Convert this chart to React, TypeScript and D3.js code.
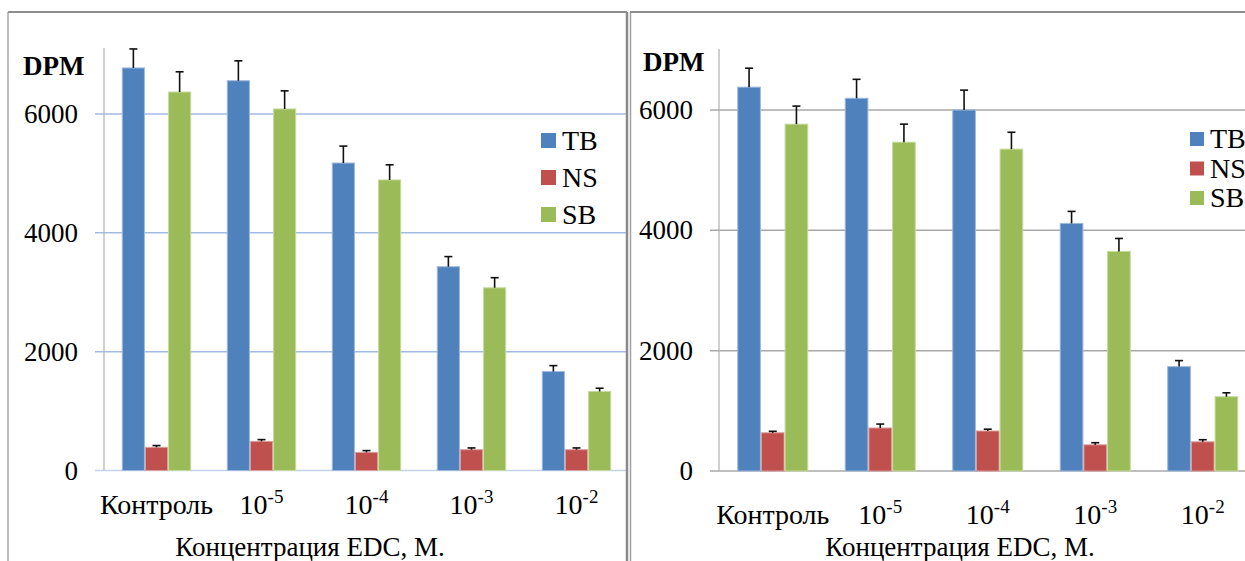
import { useRef, useEffect } from 'react';
import * as d3 from 'd3';

const categories = ['Контроль', '10', '10', '10', '10'];
const exponents = ['', '-5', '-4', '-3', '-2'];
const seriesNames = ['TB', 'NS', 'SB'];
const yTicks = [0, 2000, 4000, 6000];

// left chart values
const leftTB = [6775, 6560, 5175, 3430, 1665];
const leftTBErr = [320, 335, 285, 170, 100];
const leftNS = [390, 490, 305, 350, 350];
const leftNSErr = [30, 30, 30, 30, 30];
const leftSB = [6370, 6085, 4890, 3075, 1330];
const leftSBErr = [340, 305, 255, 170, 55];

// right chart values
const rightTB = [6380, 6195, 6000, 4115, 1735];
const rightTBErr = [315, 315, 330, 200, 100];
const rightNS = [635, 715, 665, 435, 485];
const rightNSErr = [25, 65, 30, 35, 35];
const rightSB = [5765, 5465, 5350, 3650, 1235];
const rightSBErr = [300, 300, 280, 215, 65];

const colors = ['#4F81BD', '#C0504D', '#9BBB59'];
const edges = ['#9DB9DD', '#DC9D9B', '#C6DA9E'];
const fontName = "'Times New Roman'";

type PanelProps = {
  id: string;
  clipX: [number, number];
  xRange: [number, number];
  yRange: [number, number];
  axisTop: number;
  gridColor: string;
  axisColor: string;
  labelRight: number;
  dpm: [number, number];
  catBaseline: number;
  title: [number, number];
  legend: { x: number; y: number; step: number; size: number; font: number };
  values: number[][];
  errors: number[][];
};

function Panel(p: PanelProps) {
  const x0 = d3.scaleBand().domain(categories.map((_, i) => String(i))).range(p.xRange);
  const x1 = d3
    .scaleBand()
    .domain(seriesNames)
    .range([0, x0.bandwidth()])
    .paddingOuter(0.77);
  const y = d3.scaleLinear().domain([0, 6000]).range(p.yRange);
  const bw = x1.bandwidth();
  const [cl, cr] = p.clipX;

  return (
    <g>
      <clipPath id={p.id}>
        <rect x={cl} y={12} width={cr - cl} height={561 - 12} />
      </clipPath>
      {/* marks, clipped to the panel */}
      <g clipPath={`url(#${p.id})`}>
        {yTicks.map((t) => (
          <line
            key={t}
            x1={p.xRange[0] - 9}
            x2={p.xRange[1]}
            y1={y(t)}
            y2={y(t)}
            stroke={t === 0 ? p.axisColor : p.gridColor}
            strokeWidth={1.5}
          />
        ))}
        <line
          x1={p.xRange[0]}
          x2={p.xRange[0]}
          y1={p.axisTop}
          y2={y(0)}
          stroke="#B0B0B0"
          strokeWidth={1.2}
        />
        {categories.map((c, i) =>
          seriesNames.map((s, j) => {
            const v = p.values[j][i];
            const e = p.errors[j][i];
            const bx = (x0(String(i)) as number) + (x1(s) as number);
            const cx = bx + bw / 2;
            return (
              <g key={c + i + s}>
                <rect
                  x={bx + 0.5}
                  y={y(v)}
                  width={bw - 1}
                  height={y(0) - y(v)}
                  fill={colors[j]}
                  stroke={edges[j]}
                  strokeWidth={1}
                />
                <line x1={cx} x2={cx} y1={y(v)} y2={y(v + e)} stroke="#111" strokeWidth={1.6} />
                <line x1={cx - 4} x2={cx + 4} y1={y(v + e)} y2={y(v + e)} stroke="#111" strokeWidth={1.6} />
              </g>
            );
          })
        )}
        {seriesNames.map((s, j) => (
          <rect
            key={'l' + s}
            x={p.legend.x}
            y={p.legend.y + j * p.legend.step}
            width={p.legend.size}
            height={p.legend.size}
            fill={colors[j]}
          />
        ))}
      </g>
      {/* text */}
      {yTicks.map((t) => (
        <text key={'t' + t} x={p.labelRight} y={y(t) + 9} textAnchor="end" fontSize={27}>
          {t}
        </text>
      ))}
      {categories.map((c, i) => (
        <text
          key={'c' + i}
          x={(x0(String(i)) as number) + x0.bandwidth() / 2}
          y={p.catBaseline}
          textAnchor="middle"
          fontSize={28}
        >
          {c}
          {exponents[i] && (
            <tspan dy={-11} fontSize={19}>
              {exponents[i]}
            </tspan>
          )}
        </text>
      ))}
      {seriesNames.map((s, j) => (
        <text
          key={'lt' + s}
          x={p.legend.x + p.legend.size + 6}
          y={p.legend.y + j * p.legend.step + p.legend.size + 2}
          fontSize={p.legend.font}
        >
          {s}
        </text>
      ))}
      <text x={p.dpm[0]} y={p.dpm[1]} fontSize={27} fontWeight="bold">
        DPM
      </text>
      <text x={p.title[0]} y={p.title[1]} textAnchor="middle" fontSize={27}>
        Концентрация EDC, М.
      </text>
    </g>
  );
}

export default function App() {
  const svgRef = useRef<SVGSVGElement>(null);
  const width = 1245,
    height = 561;

  useEffect(() => {
    // set the serif face on every text node after mount
    d3.select(svgRef.current)
      .selectAll('text, tspan')
      .style('font-family', fontName)
      .attr('font-family', fontName);
  }, []);

  return (
    <svg
      ref={svgRef}
      width={width}
      height={height}
      fontFamily={fontName}
      style={{ position: 'absolute', left: 0, top: 0, fontFamily: fontName }}
    >
      <rect width={width} height={height} fill="#fff" />
      <Panel
        id="clipL"
        clipX={[8, 627]}
        xRange={[104, 629]}
        yRange={[470.5, 114]}
        axisTop={48}
        gridColor="#A3BBE2"
        axisColor="#C3D3EE"
        labelRight={78}
        dpm={[23, 75]}
        catBaseline={514}
        title={[310, 556]}
        legend={{ x: 541, y: 133, step: 37, size: 15, font: 28 }}
        values={[leftTB, leftNS, leftSB]}
        errors={[leftTBErr, leftNSErr, leftSBErr]}
      />
      <Panel
        id="clipR"
        clipX={[631, 1245]}
        xRange={[719, 1256.5]}
        yRange={[471, 110]}
        axisTop={49}
        gridColor="#A8A8A8"
        axisColor="#A8A8A8"
        labelRight={693}
        dpm={[643, 71]}
        catBaseline={524}
        title={[960, 556]}
        legend={{ x: 1190, y: 132, step: 29.5, size: 14, font: 28 }}
        values={[rightTB, rightNS, rightSB]}
        errors={[rightTBErr, rightNSErr, rightSBErr]}
      />
      {/* panel frames */}
      <line x1={8} x2={8} y1={12} y2={height} stroke="#A8A8A8" strokeWidth={1.5} />
      <line x1={8} x2={627} y1={12} y2={12} stroke="#8E8E8E" strokeWidth={2} />
      <line x1={627} x2={627} y1={12} y2={height} stroke="#8A8A8A" strokeWidth={2.5} />
      <line x1={630.5} x2={630.5} y1={12} y2={height} stroke="#A0A0A0" strokeWidth={1.5} />
      <line x1={630} x2={width} y1={12} y2={12} stroke="#8E8E8E" strokeWidth={2} />
    </svg>
  );
}
